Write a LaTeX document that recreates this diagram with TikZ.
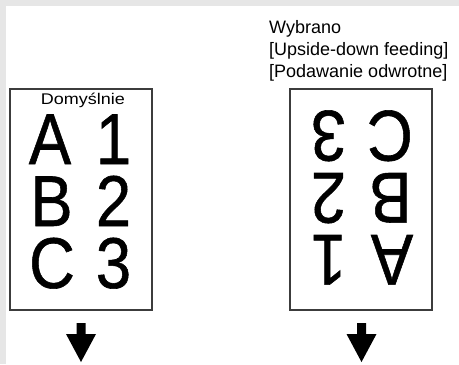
\documentclass[tikz,border=0pt]{standalone}
\usepackage{fontspec}
\setmainfont{Liberation Sans}
\newfontfamily\bigfont[FakeBold=0.8]{Liberation Sans}
\definecolor{bggray}{RGB}{230,230,230}
\definecolor{boxline}{RGB}{60,60,60}
\tikzset{
  sheet/.style={draw=boxline, line width=1.6bp, fill=white},
  big/.style={anchor=base, inner sep=0pt, text height=50bp, text depth=0bp,
    font=\bigfont\fontsize{72bp}{72bp}\selectfont},
  small/.style={inner sep=0pt, font=\fontsize{18bp}{22bp}\selectfont},
  feedarrow/.style={fill=black}
}
\newcommand{\sq}[1]{\scalebox{0.88}[1]{#1}}
\begin{document}
\begin{tikzpicture}[x=1bp,y=-1bp]
\useasboundingbox (0,0) rectangle (459,364);
\fill[bggray] (0,0) rectangle (459,364);
\fill[white] (6,6) rectangle (459,364);
% left sheet
\node[sheet, minimum width=142bp, minimum height=221bp, inner sep=0pt] (L) at (81,199.5) {};
\node[small, anchor=base] (dom) at (83,104) {\scalebox{1}[0.86]{Domyślnie}};
\node[big] (LA) at (50,164) {\sq{A}};
\node[big] (L1) at (113.5,164) {\sq{1}};
\node[big] (LB) at (51.5,226) {\sq{B}};
\node[big] (L2) at (113.5,226) {\sq{2}};
\node[big] (LC) at (52,288) {\sq{C}};
\node[big] (L3) at (113.5,288) {\sq{3}};
% right sheet
\node[sheet, minimum width=142bp, minimum height=221bp, inner sep=0pt] (R) at (361,199.5) {};
\begin{scope}[shift={(280,0)}, rotate around={180:(81,199.5)}, transform shape]
\node[big] (RA) at (50,164) {\sq{A}};
\node[big] (R1) at (113.5,164) {\sq{1}};
\node[big] (RB) at (51.5,226) {\sq{B}};
\node[big] (R2) at (113.5,226) {\sq{2}};
\node[big] (RC) at (52,288) {\sq{C}};
\node[big] (R3) at (113.5,288) {\sq{3}};
\end{scope}
\node[small, anchor=base west] (sel1) at (269,33) {Wybrano};
\node[small, anchor=base west] (sel2) at (269,55) {[Upside-down feeding]};
\node[small, anchor=base west] (sel3) at (269,77) {[Podawanie odwrotne]};
% feed arrows
\coordinate (la) at (81,323);
\coordinate (ra) at (361.5,323);
\foreach \c in {la,ra}{
  \fill[feedarrow] (\c) ++(-4.5,0) -- ++(9,0) -- ++(0,11) -- ++(10.5,0) -- ++(-15,28) -- ++(-15,-28) -- ++(10.5,0) -- cycle;
}
\end{tikzpicture}
\end{document}
